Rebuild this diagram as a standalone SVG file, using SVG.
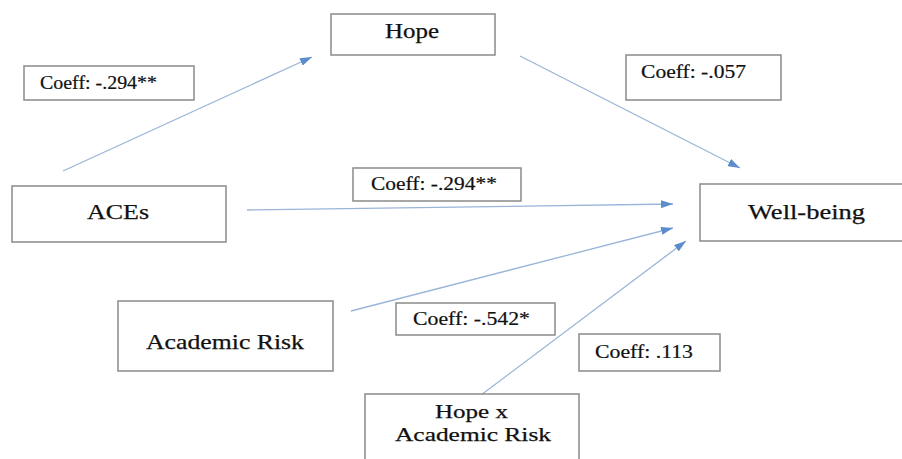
<svg xmlns="http://www.w3.org/2000/svg" width="902" height="459" viewBox="0 0 902 459">
<style>
.box{fill:#fff;stroke:#8a8a8a;stroke-width:1.5}
.node{font-family:"Liberation Serif","Times New Roman",serif;font-size:21px;fill:#111;stroke:#111;stroke-width:0.25}
.small{font-size:19.5px}
.coef{font-family:"Liberation Serif","Times New Roman",serif;font-size:19.5px;fill:#111;stroke:#111;stroke-width:0.2}
.edge{stroke:#9ab5d9;stroke-width:1.3;fill:none}
</style>
<defs>
<marker id="ah" viewBox="0 0 12 8" refX="12" refY="4" markerWidth="12" markerHeight="8" markerUnits="userSpaceOnUse" orient="auto">
<path d="M0,0 L12,4 L0,8 Z" fill="#5b8ccc"/>
</marker>
</defs>
<rect width="902" height="459" fill="#fff"/>
<g id="connectors">
<line class="edge" x1="63" y1="171" x2="312" y2="57" marker-end="url(#ah)"/>
<line class="edge" x1="520" y1="56" x2="740" y2="168" marker-end="url(#ah)"/>
<line class="edge" x1="247" y1="210" x2="673" y2="204" marker-end="url(#ah)"/>
<line class="edge" x1="351" y1="311" x2="673" y2="228" marker-end="url(#ah)"/>
<line class="edge" x1="481" y1="395" x2="686" y2="241" marker-end="url(#ah)"/>
</g>
<g id="hope">
<rect class="box" x="331" y="14" width="164" height="41"/>
<text class="node" x="385" y="38" textLength="54" lengthAdjust="spacingAndGlyphs">Hope</text>
</g>
<g id="aces">
<rect class="box" x="12" y="186" width="214" height="56"/>
<text class="node" x="87" y="219" textLength="62" lengthAdjust="spacingAndGlyphs">ACEs</text>
</g>
<g id="wellbeing">
<rect class="box" x="700" y="184" width="210" height="57"/>
<text class="node" x="748" y="219" textLength="117" lengthAdjust="spacingAndGlyphs">Well-being</text>
</g>
<g id="academic-risk">
<rect class="box" x="118" y="301" width="215" height="70"/>
<text class="node" x="146" y="349" textLength="158" lengthAdjust="spacingAndGlyphs">Academic Risk</text>
</g>
<g id="hope-x-academic-risk">
<rect class="box" x="365" y="394" width="214" height="80"/>
<text class="node small" x="435" y="418" textLength="73" lengthAdjust="spacingAndGlyphs">Hope x</text>
<text class="node small" x="395" y="441" textLength="156" lengthAdjust="spacingAndGlyphs">Academic Risk</text>
</g>
<g id="coef-aces-hope">
<rect class="box" x="24" y="66" width="170" height="34"/>
<text class="coef" x="40" y="89" textLength="117" lengthAdjust="spacingAndGlyphs">Coeff: -.294**</text>
</g>
<g id="coef-aces-wb">
<rect class="box" x="353" y="168" width="168" height="33"/>
<text class="coef" x="371" y="190" textLength="126" lengthAdjust="spacingAndGlyphs">Coeff: -.294**</text>
</g>
<g id="coef-hope-wb">
<rect class="box" x="626" y="55" width="155" height="45"/>
<text class="coef" x="641" y="78" textLength="105" lengthAdjust="spacingAndGlyphs">Coeff: -.057</text>
</g>
<g id="coef-ar-wb">
<rect class="box" x="396" y="303" width="159" height="32"/>
<text class="coef" x="413" y="325" textLength="117" lengthAdjust="spacingAndGlyphs">Coeff: -.542*</text>
</g>
<g id="coef-int-wb">
<rect class="box" x="579" y="334" width="141" height="37"/>
<text class="coef" x="595" y="358" textLength="98" lengthAdjust="spacingAndGlyphs">Coeff: .113</text>
</g>
</svg>
